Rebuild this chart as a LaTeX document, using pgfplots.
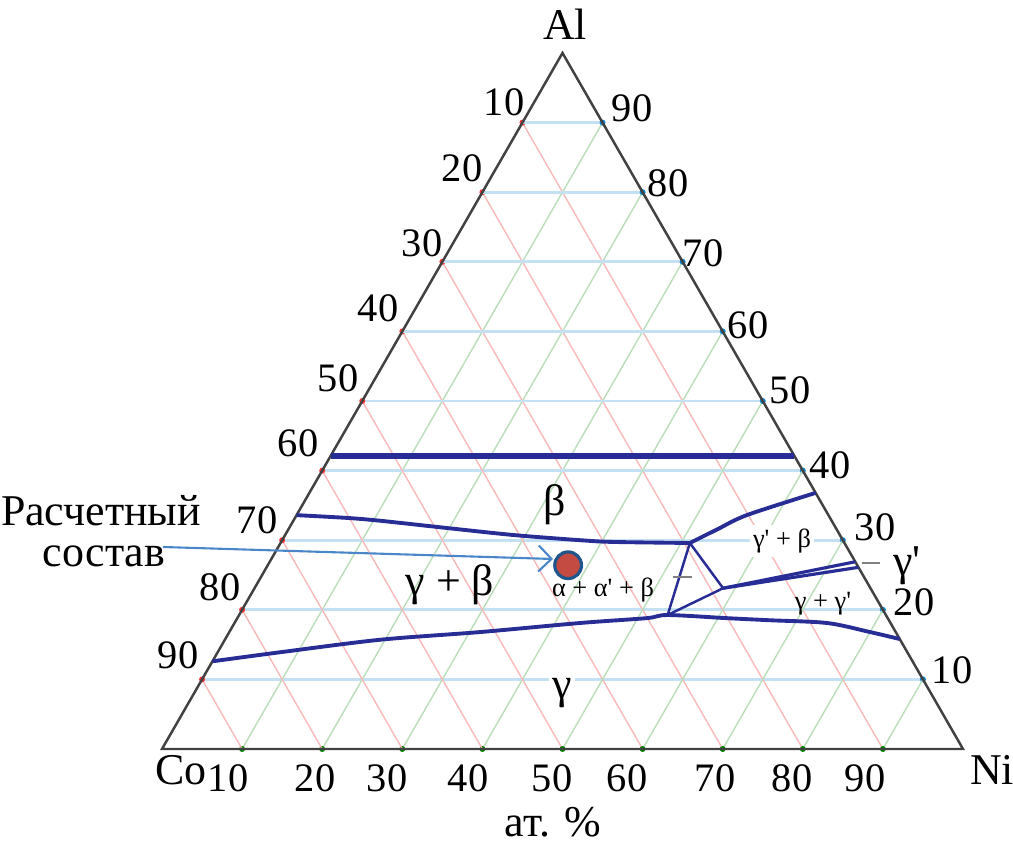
\documentclass[border=0pt]{standalone}
\usepackage{fontspec}
\setmainfont{Liberation Serif}
\usepackage{pgfplots}
\usepackage{pgfplotstable}
\pgfplotsset{compat=1.18}
\usetikzlibrary{arrows.meta}

\definecolor{phase}{RGB}{40,45,150}
\definecolor{gridb}{RGB}{195,225,242}
\definecolor{gridr}{RGB}{250,185,185}
\definecolor{gridg}{RGB}{185,222,185}
\definecolor{frame}{RGB}{65,65,65}
\definecolor{dotred}{RGB}{195,75,65}
\definecolor{dotedge}{RGB}{30,85,140}
\definecolor{arrowc}{RGB}{75,135,200}

\pgfplotsset{/pgfplots/table/tern/.style={
  /pgfplots/table/x expr={162+8.01*(\thisrow{Ni}+0.5*\thisrow{Al})},
  /pgfplots/table/y expr={749-6.96*\thisrow{Al}}}}

% ternary point (Ni, Al) in at.% -> picture coordinates
\newcommand{\T}[2]{(axis cs:{162+8.01*((#1)+0.5*(#2))},{749-6.96*(#2)})}

% phase boundaries, columns: Ni (at.%), Al (at.%)
\pgfplotstableread{
Ni Al
0 42.1
57.9 42.1
}\lineA
\pgfplotstableread{
Ni Al
0 33.6
6.5 33.2
10.8 32.8
19.7 31.75
28.45 30.75
37.2 30.0
41.4 29.75
51.1 29.6
}\lineB
\pgfplotstableread{
Ni Al
51.1 29.6
53.6 31.6
56.2 33.6
63.2 36.8
}\lineC
\pgfplotstableread{
Ni Al
0 12.6
7.8 13.9
19.4 15.7
31.3 16.8
43.1 18.1
51.1 18.8
53.5 19.25
61.1 18.8
66.6 18.5
74.0 18.1
80.0 16.8
84.2 15.8
}\lineD
\pgfplotstableread{
Ni Al
51.1 29.6
58.5 23.1
53.5 19.25
51.1 29.6
}\tieT
\pgfplotstableread{
Ni Al
58.5 23.1
73.1 26.9
}\gpA
\pgfplotstableread{
Ni Al
58.5 23.1
73.9 26.1
}\gpB
\pgfplotstableread{
Ni Al
37.5 26.4
}\point

\begin{document}
\begin{tikzpicture}
\begin{axis}[
  scale only axis, width=101.3mm, height=84.6mm,
  xmin=0, xmax=1013, ymin=0, ymax=846, y dir=reverse,
  hide axis, clip=false,
]
% grid
\pgfplotsinvokeforeach{10,20,30,40,50,60,70,80,90}{
  \draw[gridb, line width=0.8pt] \T{0}{#1} -- \T{100-#1}{#1};
  \draw[gridr, line width=0.4pt] \T{0}{100-#1} -- \T{100-#1}{0};
  \draw[gridg, line width=0.4pt] \T{#1}{0} -- \T{#1}{100-#1};
  \fill[red!80] \T{0}{100-#1} circle[radius=0.3mm];
  \fill[cyan!70!blue] \T{100-#1}{#1} circle[radius=0.3mm];
  \fill[green!50!black] \T{#1}{0} circle[radius=0.3mm];
}
% frame
\draw[frame, line width=0.7pt, line join=miter] \T{0}{0} -- \T{100}{0} -- \T{0}{100} -- cycle;

% phase boundaries
\addplot[phase, line width=1.5pt, no marks] table[tern] {\lineA};
\addplot[phase, line width=1.1pt, no marks, smooth, tension=0.5] table[tern] {\lineB};
\addplot[phase, line width=1.1pt, no marks, smooth, tension=0.5] table[tern] {\lineC};
\addplot[phase, line width=1.1pt, no marks, smooth, tension=0.5] table[tern] {\lineD};
\addplot[phase, line width=0.7pt, no marks] table[tern] {\tieT};
\addplot[phase, line width=0.9pt, no marks] table[tern] {\gpA};
\addplot[phase, line width=0.9pt, no marks] table[tern] {\gpB};

% small gray dashes
\draw[gray, line width=0.6pt] (axis cs:673,577) -- (axis cs:692,577);
\draw[gray, line width=0.6pt] (axis cs:862,563) -- (axis cs:880,563);

% arrow
\draw[arrowc, line width=0.6pt, -{Straight Barb[length=1.3mm,width=2.6mm]}] (axis cs:163,547) -- (axis cs:553,559);

% computed composition
\addplot[only marks, mark=*, mark size=3.8pt, draw=dotedge, fill=dotred, line width=0.9pt] table[tern] {\point};

\begin{scope}[every node/.style={inner sep=0pt, font=\fontsize{12.5}{14}\selectfont}]
% corner labels
\node at (axis cs:565,24) {Al};
\node at (axis cs:181,770) {Co};
\node at (axis cs:992,770) {Ni};
\node at (axis cs:553,822) {ат. \%};
% phase labels
\node at (axis cs:555,505) {β};
\node at (axis cs:450,585) {γ + β};
\node[fill=white, inner sep=1pt] at (axis cs:562,693) {γ};
\node at (axis cs:907,566) {γ\textquotesingle};
% annotation text
\node at (axis cs:101,511) {Расчетный};
\node at (axis cs:104,556) {состав};
\end{scope}

\begin{scope}[every node/.style={inner sep=0pt, font=\fontsize{11.5}{13}\selectfont}]
% left labels (Co)
\node at (axis cs:504,102) {10};
\node at (axis cs:462,168) {20};
\node at (axis cs:422,243) {30};
\node at (axis cs:378,308) {40};
\node at (axis cs:338,378) {50};
\node at (axis cs:298,443) {60};
\node at (axis cs:257,520) {70};
\node at (axis cs:220,587) {80};
\node at (axis cs:178,655) {90};
% right labels (Al)
\node at (axis cs:632,108) {90};
\node at (axis cs:668,183) {80};
\node at (axis cs:703,253) {70};
\node at (axis cs:748,325) {60};
\node at (axis cs:790,390) {50};
\node at (axis cs:830,465) {40};
\node at (axis cs:875,527) {30};
\node at (axis cs:914,602) {20};
\node at (axis cs:952,670) {10};
% bottom labels (Ni)
\node at (axis cs:228,778) {10};
\node at (axis cs:315,778) {20};
\node at (axis cs:387,778) {30};
\node at (axis cs:468,778) {40};
\node at (axis cs:552,778) {50};
\node at (axis cs:627,778) {60};
\node at (axis cs:715,778) {70};
\node at (axis cs:792,778) {80};
\node at (axis cs:865,778) {90};
\end{scope}

\begin{scope}[every node/.style={inner sep=0pt, font=\fontsize{7.5}{9}\selectfont}]
\node at (axis cs:603,590) {α + α\textquotesingle{} + β};
\node[fill=white, inner sep=1pt] at (axis cs:782,541) {γ\textquotesingle{} + β};
\node at (axis cs:823,604) {γ + γ\textquotesingle};
\end{scope}
\end{axis}
\pgfresetboundingbox
\path[use as bounding box] (current axis.south west) rectangle (current axis.north east);
\end{tikzpicture}
\end{document}
